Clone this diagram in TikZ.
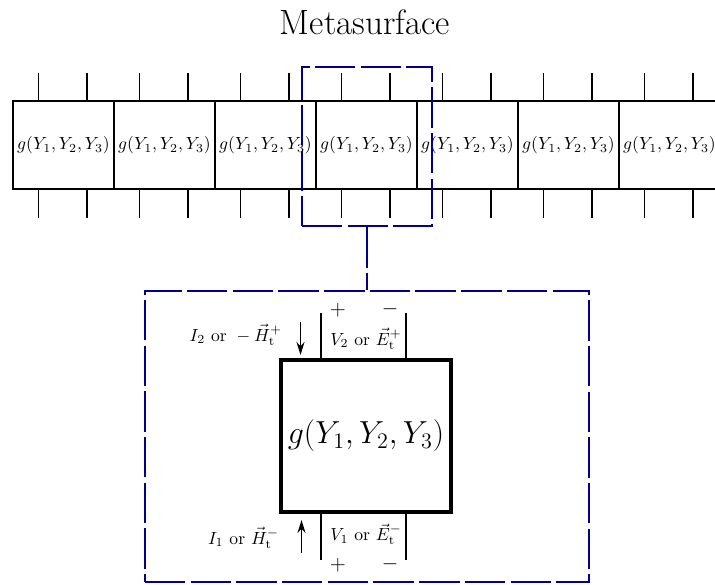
\documentclass[tikz,border=0pt]{standalone}
\usetikzlibrary{arrows.meta, positioning, calc}
\definecolor{navy}{RGB}{0,0,139}

\begin{document}
\begin{tikzpicture}[
      cell/.style={rectangle, draw, line width=1.2pt, minimum width=2.02cm, minimum height=1.76cm, inner sep=0pt, outer sep=0pt},
      pin/.style={line width=0.8pt},
      dashline/.style={draw=navy, line width=1.4pt, dash pattern=on 23pt off 3pt},
      zoombox/.style={rectangle, dashline},
      block/.style={rectangle, draw, line width=2.4pt, minimum width=3.4cm, minimum height=3.04cm, font=\LARGE},
      port/.style={line width=1.4pt},
      sign/.style={font=\large, inner sep=1pt},
      current/.style={-{Stealth[length=2.6mm, width=1.6mm]}, line width=1pt}
    ]
    \clip (0,0) rectangle (14.3,11.7);

    \node[font=\fontsize{20}{24}\selectfont] (title) at (7.3,11.26) {Metasurface};

    % row of unit cells
    \node[cell] (c0) at (1.27,8.8) {$g(Y_1,Y_2,Y_3)$};
    \foreach \i [count=\j from 0] in {1,...,6}
      \node[cell, right=0pt of c\j] (c\i) {$g(Y_1,Y_2,Y_3)$};
    \foreach \i in {0,...,6} {
      \draw[pin] ($(c\i.north)+(-0.5,0)$) -- ++(0,0.55);
      \draw[pin] ($(c\i.north)+(0.47,0)$) -- ++(0,0.55);
      \draw[pin] ($(c\i.south)+(-0.5,0)$) -- ++(0,-0.58);
      \draw[pin] ($(c\i.south)+(0.47,0)$) -- ++(0,-0.58);
    }

    % zoomed cell
    \node[zoombox, minimum width=2.6cm, minimum height=3.18cm] (zoom) at (7.34,8.77) {};
    \node[zoombox, minimum width=8.88cm, minimum height=5.82cm] (detail) at (7.34,2.97) {};
    \draw[dashline] (zoom.south) -- (detail.north);

    \node[block] (blk) at (7.32,2.98) {\scalebox{1.05}{$g(Y_1,Y_2,Y_3)$}};

    % port 2 (top)
    \coordinate (p2a) at ($(blk.north west)+(0.84,0)$);
    \coordinate (p2b) at ($(blk.north east)+(-0.94,0)$);
    \draw[port] (p2a) -- ++(0,0.9);
    \draw[port] (p2b) -- ++(0,0.9);
    \node[sign] (plus2) at ($(p2a)+(0.34,0.96)$) {$+$};
    \node[sign] (minus2) at ($(p2b)+(-0.32,0.98)$) {$-$};
    \node[inner sep=1pt] (v2) at ($(blk.north)+(0,0.38)$) {$V_2\mbox{ or }\vec{E}_{\rm t}^{+}$};
    \coordinate (i2s) at (6.01,5.26);
    \coordinate (i2e) at (6.01,4.6);
    \draw[current] (i2s) -- (i2e);
    \node[anchor=east, inner sep=1pt] (i2) at (5.68,5.0) {$I_2\mbox{ or }-\vec{H}_{\rm t}^{+}$};

    % port 1 (bottom)
    \coordinate (p1a) at ($(blk.south west)+(0.84,0)$);
    \coordinate (p1b) at ($(blk.south east)+(-0.94,0)$);
    \draw[port] (p1a) -- ++(0,-0.92);
    \draw[port] (p1b) -- ++(0,-0.92);
    \node[sign] (plus1) at ($(p1a)+(0.34,-1.02)$) {$+$};
    \node[sign] (minus1) at ($(p1b)+(-0.32,-1.0)$) {$-$};
    \node[inner sep=1pt] (v1) at ($(blk.south)+(0,-0.4)$) {$V_1\mbox{ or }\vec{E}_{\rm t}^{-}$};
    \coordinate (i1s) at (6.03,0.64);
    \coordinate (i1e) at (6.03,1.3);
    \draw[current] (i1s) -- (i1e);
    \node[anchor=east, inner sep=1pt] (i1) at (5.62,0.94) {$I_1\mbox{ or }\vec{H}_{\rm t}^{-}$};
  \end{tikzpicture}
\end{document}
